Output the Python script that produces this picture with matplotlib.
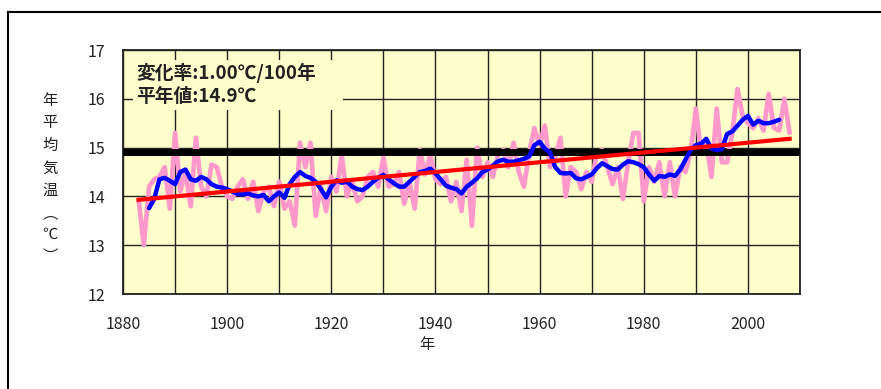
import matplotlib
matplotlib.use("Agg")
import matplotlib.pyplot as plt
from matplotlib.lines import Line2D
from matplotlib.patches import Rectangle
from matplotlib.ticker import MultipleLocator

plt.rcParams['font.family'] = ['Noto Sans CJK JP', 'DejaVu Sans']

# ---- data ----
years = list(range(1883, 2009))
annual = [
    13.93, 13.0, 14.2, 14.35, 14.4, 14.6, 13.75, 15.3, 14.1, 14.5,   # 1883-1892
    13.8, 15.2, 14.2, 14.0, 14.65, 14.6, 14.2, 14.0, 13.95, 14.2,    # 1893-1902
    14.35, 13.95, 14.3, 13.7, 14.1, 14.2, 13.8, 14.3, 13.75, 13.9,   # 1903-1912
    13.4, 15.1, 14.6, 15.1, 13.6, 14.2, 13.7, 14.4, 14.1, 14.85,     # 1913-1922
    14.0, 14.3, 13.9, 14.0, 14.4, 14.5, 14.2, 14.8, 14.2, 14.25,     # 1923-1932
    14.5, 13.85, 14.3, 13.75, 14.95, 14.45, 14.85, 14.35, 14.25, 14.4,  # 1933-1942
    13.9, 14.3, 13.7, 14.75, 13.4, 15.0, 14.4, 14.7, 14.4, 14.85,    # 1943-1952
    14.95, 14.6, 15.1, 14.5, 14.2, 14.9, 15.4, 15.05, 15.45, 14.6,   # 1953-1962
    14.8, 15.2, 14.0, 14.6, 14.5, 14.15, 14.5, 14.3, 14.9, 14.95,    # 1963-1972
    14.6, 14.25, 14.6, 13.95, 14.7, 15.3, 15.3, 13.9, 14.6, 14.3,    # 1973-1982
    14.7, 14.0, 14.7, 14.0, 14.6, 14.5, 14.9, 15.8, 14.9, 15.1,      # 1983-1992
    14.4, 15.8, 14.7, 14.7, 15.3, 16.2, 15.65, 15.5, 15.4, 15.6,     # 1993-2002
    15.35, 16.1, 15.4, 15.35, 16.0, 15.3,                            # 2003-2008
]

ma_years = list(range(1885, 2007))
moving_avg = [
    13.76, 13.95, 14.35, 14.38, 14.32, 14.25, 14.5, 14.55, 14.35, 14.32,  # 1885-1894
    14.4, 14.35, 14.25, 14.2, 14.18, 14.15, 14.1, 14.05, 14.04, 14.06,    # 1895-1904
    14.02, 14.0, 14.03, 13.9, 14.0, 14.08, 13.97, 14.25, 14.4, 14.5,      # 1905-1914
    14.42, 14.38, 14.3, 14.15, 13.98, 14.2, 14.33, 14.28, 14.3, 14.2,     # 1915-1924
    14.15, 14.13, 14.2, 14.3, 14.38, 14.44, 14.35, 14.27, 14.2, 14.2,     # 1925-1934
    14.3, 14.4, 14.5, 14.52, 14.57, 14.47, 14.35, 14.22, 14.18, 14.15,    # 1935-1944
    14.06, 14.2, 14.28, 14.37, 14.5, 14.55, 14.63, 14.72, 14.75, 14.71,   # 1945-1954
    14.71, 14.74, 14.77, 14.82, 15.05, 15.12, 14.98, 14.9, 14.6, 14.48,   # 1955-1964
    14.47, 14.48, 14.37, 14.35, 14.4, 14.45, 14.58, 14.68, 14.62, 14.56,  # 1965-1974
    14.55, 14.65, 14.72, 14.7, 14.66, 14.6, 14.45, 14.32, 14.42, 14.4,    # 1975-1984
    14.45, 14.42, 14.55, 14.75, 14.95, 15.05, 15.08, 15.18, 14.98, 14.95, # 1985-1994
    14.97, 15.28, 15.33, 15.45, 15.57, 15.65, 15.47, 15.55, 15.5, 15.5,   # 1995-2004
    15.53, 15.57,                                                         # 2005-2006
]

trend_years = [1883, 2008]
trend_values = [13.93, 15.18]

normal_value = 14.9
rate_text = "変化率:1.00℃/100年"
normal_text = "平年値:14.9℃"
x_ticks = [1880, 1900, 1920, 1940, 1960, 1980, 2000]
y_ticks = [12, 13, 14, 15, 16, 17]
x_label = "年"
y_label_chars = ["年", "平", "均", "気", "温", "︵", "℃", "︶"]

# ---- figure ----
W, H = 881, 389
fig = plt.figure(figsize=(W / 100, H / 100), dpi=100)
fig.patch.set_facecolor('white')

AX_L, AX_R, AX_T, AX_B = 123, 800, 50, 294
ax = fig.add_axes([AX_L / W, 1 - AX_B / H, (AX_R - AX_L) / W, (AX_B - AX_T) / H])
ax.set_facecolor('#FFFFCC')
ax.set_xlim(1880, 2010)
ax.set_ylim(12, 17)
ax.set_xticks(x_ticks)
ax.set_yticks(y_ticks)
ax.xaxis.set_minor_locator(MultipleLocator(10))
ax.grid(True, which='both', color='#222222', linewidth=1.0, zorder=0)
ax.set_axisbelow(True)
ax.tick_params(axis='both', which='both', length=0, labelsize=11.5,
               labelcolor='#222222')
ax.tick_params(axis='x', pad=16)
ax.tick_params(axis='y', pad=13)
for sp in ax.spines.values():
    sp.set_linewidth(1.3)
    sp.set_color('#222222')

ax.plot(years, annual, color='#FF99CC', linewidth=3.4, zorder=2,
        solid_joinstyle='round', solid_capstyle='round')
ax.axhline(normal_value, color='black', linewidth=5.0, zorder=3)
ax.plot(ma_years, moving_avg, color='#0000FF', linewidth=3.2, zorder=4,
        solid_joinstyle='round', solid_capstyle='round')
ax.plot(trend_years, trend_values, color='#FF0000', linewidth=3.0, zorder=5)


def ax_x(px):
    return (px - AX_L) / (AX_R - AX_L)


def ax_y(py):
    return 1 - (py - AX_T) / (AX_B - AX_T)


# annotation box background (hides the grid like the reference)
ax.add_patch(Rectangle((ax_x(133), ax_y(110)), ax_x(343) - ax_x(133),
                       ax_y(60) - ax_y(110), transform=ax.transAxes,
                       facecolor='#FFFFCC', edgecolor='none', zorder=1))
ax.text(ax_x(136), ax_y(73), rate_text, transform=ax.transAxes,
        ha='left', va='center', fontsize=13.5, fontweight='bold',
        color='#222222', zorder=6)
ax.text(ax_x(136), ax_y(97), normal_text, transform=ax.transAxes,
        ha='left', va='center', fontsize=13.5, fontweight='bold',
        color='#222222', zorder=6)

fig.text(427 / W, 1 - 345 / H, x_label, ha='center', va='center',
         fontsize=11, color='#222222')

y_label_pos = [100, 122, 145, 168, 190, 214, 234, 256]
for ch, yp in zip(y_label_chars, y_label_pos):
    fig.text(50 / W, 1 - yp / H, ch, ha='center', va='center',
             fontsize=11, color='#222222')

# outer frame (left and top edges)
fig.add_artist(Line2D([7.5 / W, 7.5 / W], [0, 1 - 11.5 / H],
                      transform=fig.transFigure, color='black', linewidth=1.5))
fig.add_artist(Line2D([7.5 / W, 1], [1 - 11.5 / H, 1 - 11.5 / H],
                      transform=fig.transFigure, color='black', linewidth=1.5))

fig.savefig('out.png', dpi=100)
